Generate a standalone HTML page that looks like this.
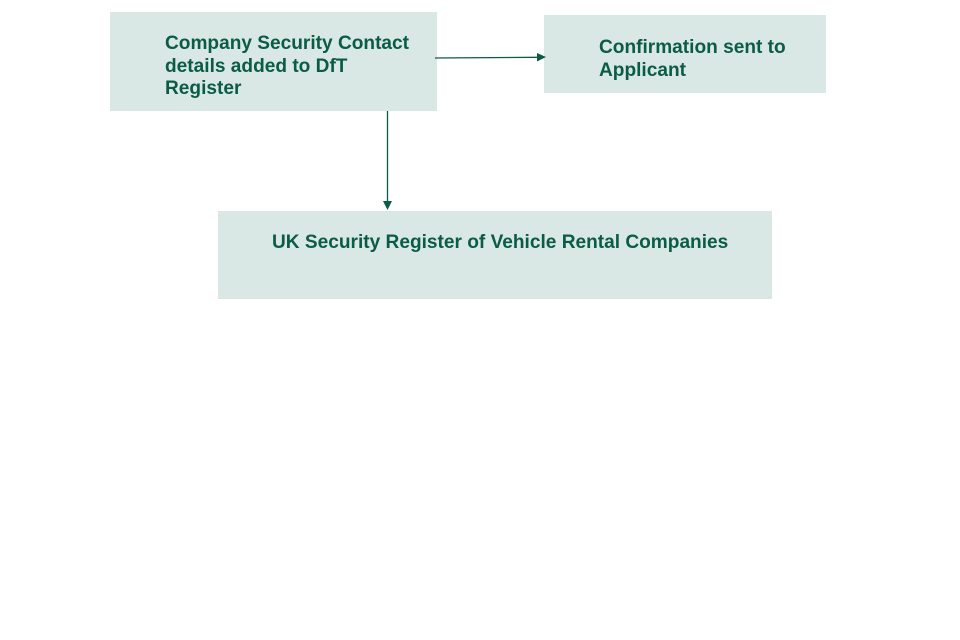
<!DOCTYPE html>
<html><head><style>
body{margin:0;width:960px;height:640px;background:#fff;position:relative;overflow:hidden;font-family:"Liberation Sans",sans-serif}
.b{position:absolute;background:#d9e8e4}
.t{position:absolute;color:#0b5c46;font-weight:bold;font-size:19.1px;line-height:22.5px;white-space:nowrap}
</style></head><body>
<div class="b" style="left:110px;top:12px;width:327px;height:99px"></div>
<div class="b" style="left:544px;top:15px;width:282px;height:78px"></div>
<div class="b" style="left:218px;top:211px;width:554px;height:88px"></div>
<div class="t" style="left:165px;top:33px">Company Security Contact<br>details added to DfT<br>Register</div>
<div class="t" style="left:599px;top:36px;line-height:23px">Confirmation sent to<br>Applicant</div>
<div class="t" style="left:272px;top:232px">UK Security Register of Vehicle Rental Companies</div>
<svg width="960" height="640" style="position:absolute;left:0;top:0">
<line x1="435" y1="58" x2="538" y2="57.3" stroke="#0b5c46" stroke-width="1.3"/>
<polygon points="546,57 537,53 537,61.5" fill="#0b5c46"/>
<line x1="387.5" y1="111" x2="387.5" y2="202" stroke="#0b5c46" stroke-width="1.3"/>
<polygon points="387.5,210 383,201 392,201" fill="#0b5c46"/>
</svg>
</body></html>
